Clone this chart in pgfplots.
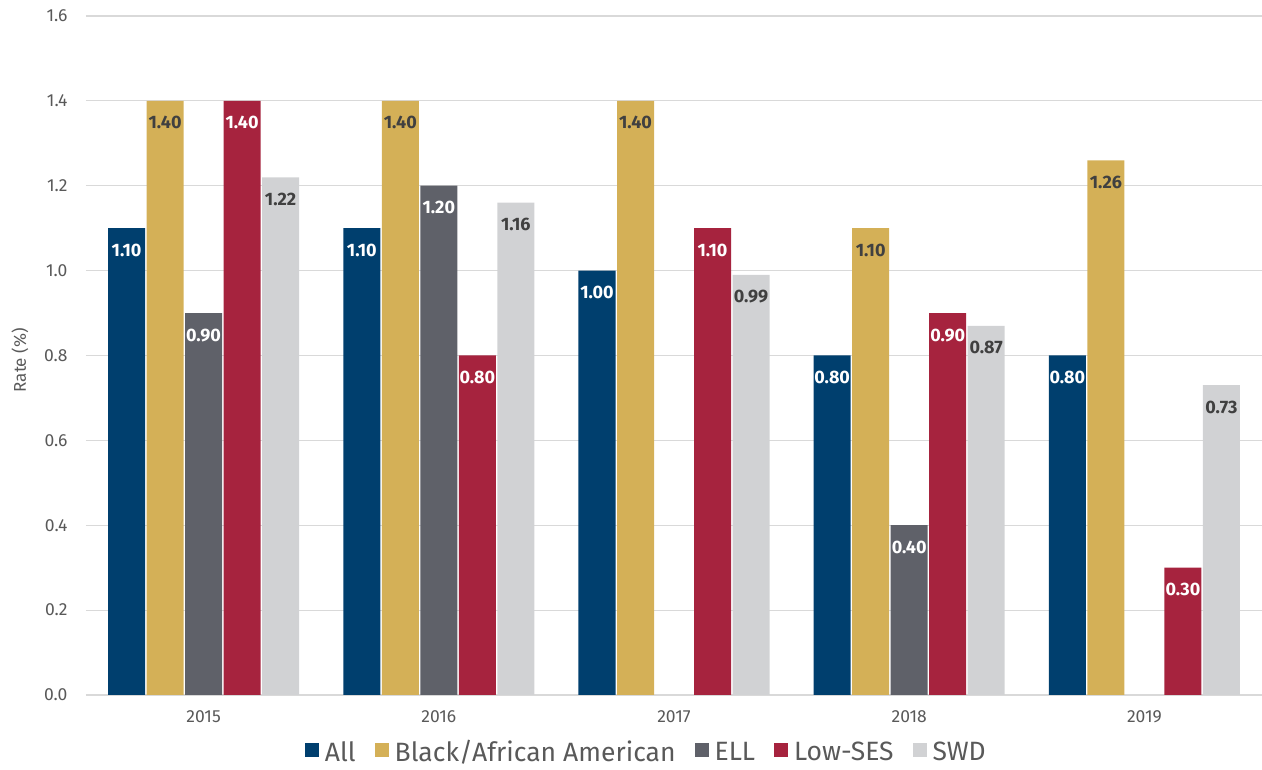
\documentclass[border=0pt]{standalone}
\usepackage{fontspec}
\setmainfont{Fira Sans}
\usepackage{pgfplots}
\pgfplotsset{compat=1.18}

\definecolor{cAll}{HTML}{003F6E}
\definecolor{cBlack}{HTML}{D4B057}
\definecolor{cELL}{HTML}{5F6169}
\definecolor{cSES}{HTML}{A6233E}
\definecolor{cSWD}{HTML}{D1D2D4}
\definecolor{gridc}{HTML}{D9D9D9}
\definecolor{txt}{HTML}{595959}
\definecolor{lbl}{HTML}{404040}

\pgfplotsset{
  sq legend/.style={legend image code/.code={\fill[##1] (0pt,-5pt) rectangle (14pt,9pt);}},
}

\begin{document}
\begin{tikzpicture}
\useasboundingbox (-86pt,-75pt) rectangle (1176pt,695pt);
\begin{axis}[
  at={(0,0)}, anchor=south west,
  scale only axis, width=1176pt, height=679pt,
  xmin=-0.5, xmax=4.5, ymin=0, ymax=1.6,
  xtick={0,1,2,3,4}, xticklabels={2015,2016,2017,2018,2019},
  ytick={0,0.2,0.4,0.6,0.8,1.0,1.2,1.4,1.6},
  yticklabel={\pgfmathprintnumber[fixed,fixed zerofill,precision=1,assume math mode=true]{\tick}},
  ymajorgrids, grid style={gridc, line width=1.2pt},
  axis line style={draw=none},
  major tick length=0pt, tick style={draw=none},
  ticklabel style={font=\fontsize{17.5}{17.5}\selectfont, text=txt},
  xticklabel style={yshift=-12pt},
  yticklabel style={xshift=-15pt},
  ylabel={Rate (\%)},
  ylabel style={at={(axis description cs:-0.0561,0.493)}, anchor=center,
    font=\fontsize{17}{17}\selectfont, text=txt},
  ybar, bar width=37pt,
  nodes near coords={\pgfmathprintnumber[fixed,fixed zerofill,precision=2,assume math mode=true]{\pgfplotspointmeta}},
  every node near coord/.append style={anchor=north, yshift=-12pt,
    font=\fontsize{18}{18}\selectfont\bfseries},
  legend columns=-1,
  legend style={draw=none, fill=none, at={(axis description cs:0.4765,-0.084)}, anchor=center,
    font=\fontsize{26.5}{26.5}\selectfont, text=txt,
    /tikz/every even column/.append style={column sep=17pt},
    /tikz/every odd column/.append style={column sep=4pt}},
]
\addplot[sq legend, fill=cAll, draw=none, bar shift=-77pt,
  every node near coord/.append style={text=white}]
  coordinates {(0,1.10) (1,1.10) (2,1.00) (3,0.80) (4,0.80)};
\addlegendentry{All}
\addplot[sq legend, fill=cBlack, draw=none, bar shift=-38.5pt,
  every node near coord/.append style={text=lbl}]
  coordinates {(0,1.40) (1,1.40) (2,1.40) (3,1.10) (4,1.26)};
\addlegendentry{Black/African American}
\addplot[sq legend, fill=cELL, draw=none, bar shift=0pt,
  every node near coord/.append style={text=white}]
  coordinates {(0,0.90) (1,1.20) (3,0.40)};
\addlegendentry{ELL}
\addplot[sq legend, fill=cSES, draw=none, bar shift=38.5pt,
  every node near coord/.append style={text=white}]
  coordinates {(0,1.40) (1,0.80) (2,1.10) (3,0.90) (4,0.30)};
\addlegendentry{Low-SES}
\addplot[sq legend, fill=cSWD, draw=none, bar shift=77pt,
  every node near coord/.append style={text=lbl}]
  coordinates {(0,1.22) (1,1.16) (2,0.99) (3,0.87) (4,0.73)};
\addlegendentry{SWD}
\end{axis}
\end{tikzpicture}
\end{document}
